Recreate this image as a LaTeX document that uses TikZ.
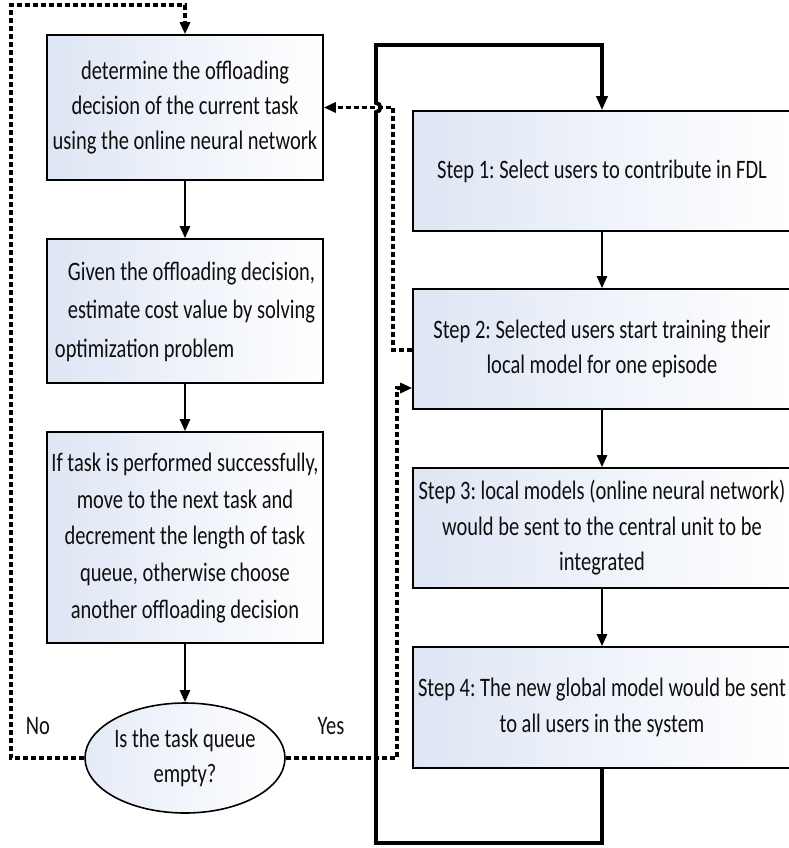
\documentclass[tikz,border=0pt]{standalone}
\usepackage{fontspec}
\usepackage{graphicx}
\setmainfont{Carlito}
\usetikzlibrary{arrows.meta,shapes.geometric}
\definecolor{boxl}{RGB}{222,230,244}
\definecolor{txt}{RGB}{15,15,15}
\newcommand\vtext[2][1]{\scalebox{1}[1.3]{\renewcommand\arraystretch{#1}\begin{tabular}{@{}c@{}}#2\end{tabular}}}
\newcommand\vtextl[2][1]{\scalebox{1}[1.3]{\renewcommand\arraystretch{#1}\begin{tabular}{@{}l@{}}#2\end{tabular}}}
\frenchspacing
\tikzset{
  basebox/.style={draw=black, line width=1.6pt, left color=boxl, right color=white, inner sep=0pt,
    font=\fontsize{20.5}{27}\selectfont, text=txt},
  lbox/.style={basebox, minimum width=276pt},
  rbox/.style={basebox, minimum width=378pt},
  decis/.style={ellipse, draw=black, line width=1.6pt, left color=boxl!80, right color=white, inner sep=0pt,
    minimum width=198pt, minimum height=110pt, font=\fontsize{20.5}{27}\selectfont, text=txt},
  lbl/.style={font=\fontsize{20.5}{27}\selectfont, text=txt, inner sep=0pt},
  tip/.style={-{Triangle[length=12pt,width=10pt]}},
  arr/.style={line width=2.4pt, tip},
  thickloop/.style={line width=3.8pt, line join=miter, -{Triangle[length=14pt,width=11pt]}},
  dsh/.style={line width=3.4pt, dash pattern=on 5pt off 3pt, tip}
}
\begin{document}
\begin{tikzpicture}[x=1pt,y=-1pt]
\useasboundingbox (0,0) rectangle (789,848);
\clip (0,0) rectangle (789,848);

% left column
\node[lbox, minimum height=145pt] (b1) at (185,107.5)
  {\vtext{determine the offloading\\decision of the current task\\using the online neural network}};
\node[lbox, minimum height=144pt] (b2) at (185,311)
  {\vtextl[1.1]{\hspace*{13pt}Given the offloading decision,\\\hspace*{13pt}estimate cost value by solving\\optimization problem}};
\node[lbox, minimum height=211pt] (b3) at (185,537.5)
  {\vtext[1.05]{If task is performed successfully,\\move to the next task and\\decrement the length of task\\queue, otherwise choose\\another offloading decision}};
\node[decis] (e) at (185,758) {\vtext{Is the task queue\\empty?}};

% right column
\node[rbox, minimum height=120pt] (r1) at (602,171) {\vtext{Step 1: Select users to contribute in FDL}};
\node[rbox, minimum height=120pt] (r2) at (602,349) {\vtext{Step 2: Selected users start training their\\local model for one episode}};
\node[rbox, minimum height=120pt] (r3) at (602,528) {\vtext{Step 3: local models (online neural network)\\would be sent to the central unit to be\\integrated}};
\node[rbox, minimum height=121pt] (r4) at (602,707.5) {\vtext{Step 4: The new global model would be sent\\to all users in the system}};

% labels
\node[lbl] (no) at (38,727) {\vtext{No}};
\node[lbl] (yes) at (331,727) {\vtext{Yes}};

% solid arrows
\draw[arr] (b1) -- (b2);
\draw[arr] (b2) -- (b3);
\draw[arr] (b3) -- (e);
\draw[arr] (r1) -- (r2);
\draw[arr] (r2) -- (r3);
\draw[arr] (r3) -- (r4);

% thick loop
\draw[thickloop] (r4.south) -- (602,843) -- (376,843) -- (376,112)
  arc[start angle=90, end angle=-90, radius=4.5] -- (376,45) -| (r1.north);

% dashed connectors
\draw[dsh] ([yshift=-1pt]r2.west) -| (393,107.5) -- (b1.east);
\draw[dsh] (e.east) -| (397,388) -- ([yshift=-39pt]r2.west);
\draw[dsh] (e.west) -| (11,5) -| (b1.north);
\end{tikzpicture}
\end{document}
